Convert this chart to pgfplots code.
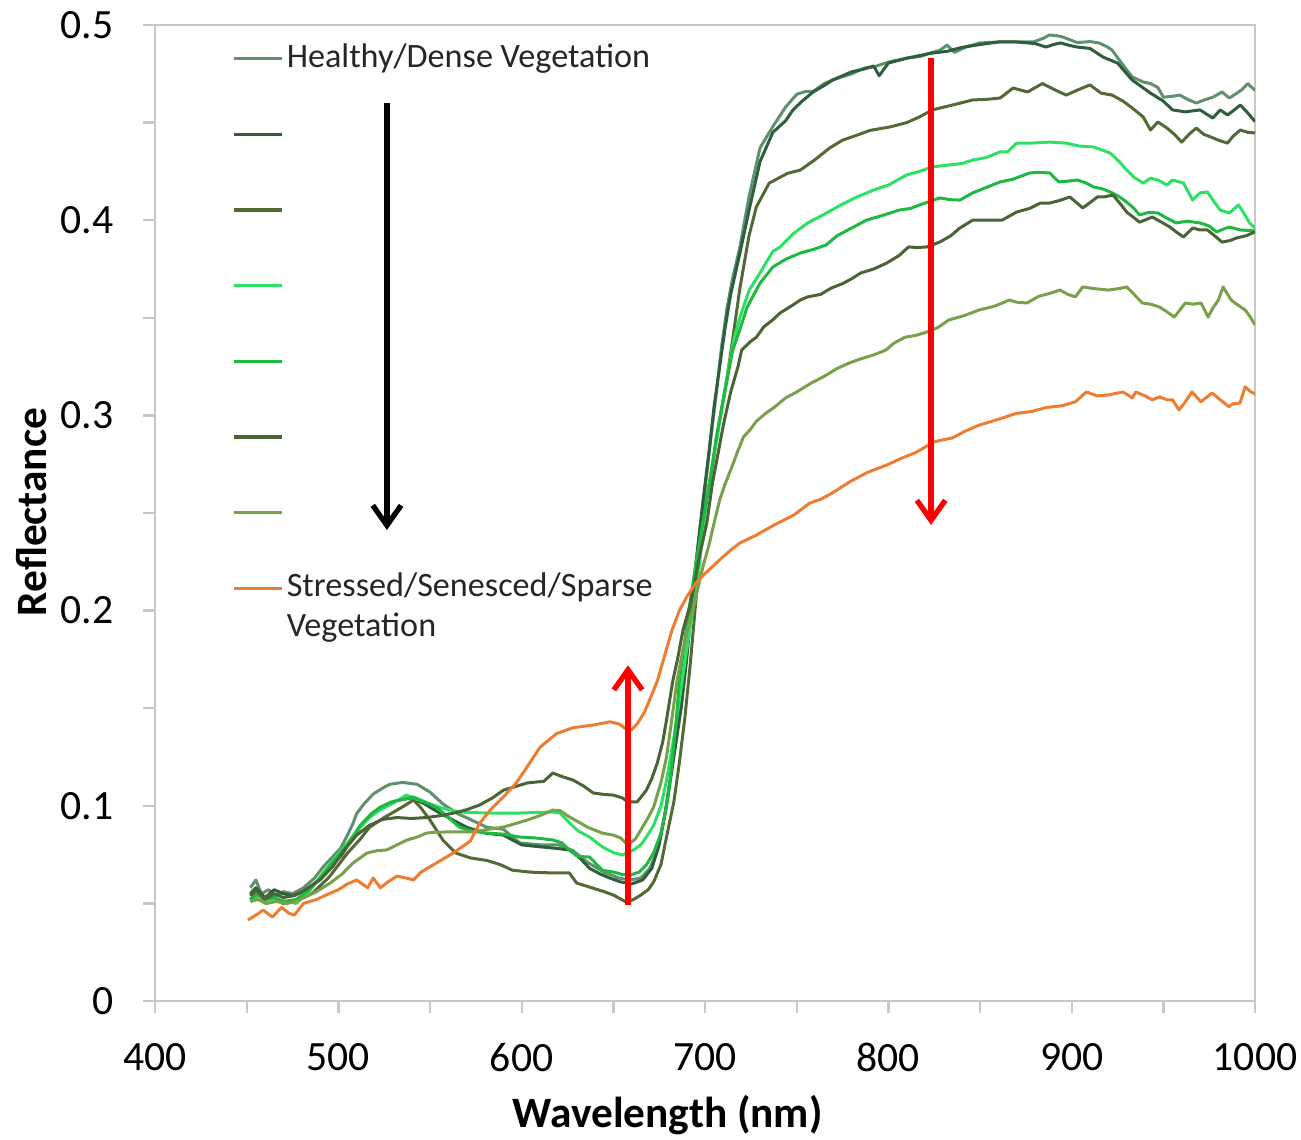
\documentclass[border=0pt]{standalone}
\usepackage{fontspec}
\setmainfont{Carlito}
\usepackage{pgfplots}
\pgfplotsset{compat=1.18}
\usetikzlibrary{arrows.meta,calc}
\definecolor{sA}{RGB}{95,145,110}
\definecolor{sB}{RGB}{45,95,60}
\definecolor{sC}{RGB}{84,106,52}
\definecolor{sD}{RGB}{45,225,100}
\definecolor{sE}{RGB}{30,185,65}
\definecolor{sF}{RGB}{75,100,55}
\definecolor{sG}{RGB}{122,160,75}
\definecolor{sH}{RGB}{237,125,49}
\definecolor{axgray}{RGB}{200,200,200}
\begin{document}
\begin{tikzpicture}
\begin{axis}[
  scale only axis, width=330pt, height=292.8pt,
  xmin=400, xmax=1000, ymin=0, ymax=0.5,
  xtick={400,500,...,1000}, ytick={0,0.1,...,0.5},
  minor tick num=1,
  tick align=outside, major tick length=3.6pt, minor tick length=3.6pt,
  xtick pos=bottom, ytick pos=left,
  axis line style={axgray, line width=0.7pt},
  every tick/.style={axgray, line width=0.7pt},
  every minor tick/.style={axgray, line width=0.7pt},
  tick label style={font=\fontsize{12.5}{14}\selectfont, text=black, inner sep=0pt},
  /pgf/number format/assume math mode=true,
  /pgf/number format/set thousands separator={},
  yticklabel style={/pgf/number format/fixed, xshift=-8.7pt},
  xticklabel style={yshift=-8.9pt},
  xlabel={Wavelength (nm)}, ylabel={Reflectance},
  label style={font=\fontsize{13}{15}\selectfont\bfseries, inner sep=0pt},
  xlabel style={at={(axis description cs:0.466,-0.1301)}, anchor=base},
  ylabel style={at={(axis description cs:-0.0982,0.501)}, anchor=base},
  legend style={draw=none, fill=none, at={(axis description cs:0.061,0.991)}, anchor=north west,
    font=\fontsize{10.25}{12}\selectfont, text=black!85,
    nodes={text height=7pt, text depth=2pt, inner sep=0.8pt},
    row sep=12.1pt},
  legend cell align=left,
  legend image code/.code={\draw[#1, line width=1pt] (0pt,0pt) -- (14.4pt,0pt);},
  every axis plot/.append style={line width=0.9pt, line join=round},
]
% 1 Healthy
\addplot[sA] table {
452 0.058
455 0.062
458 0.055
462 0.057
466 0.054
470 0.056
475 0.055
481 0.058
487 0.063
492 0.069
497 0.074
501 0.078
505 0.085
508 0.091
510 0.096
514 0.101
519 0.106
524 0.109
528 0.111
535 0.112
543 0.111
550 0.107
557 0.101
565 0.096
572 0.093
581 0.089
590 0.088
595 0.084
599 0.081
610 0.080
620 0.080
628 0.077
636 0.071
645 0.066
653 0.063
659 0.062
665 0.063
670 0.068
674 0.077
678 0.095
681 0.114
684 0.135
688 0.160
691 0.190
694 0.215
697 0.240
700 0.262
703 0.287
706 0.310
709 0.335
712 0.355
715 0.370
719 0.386
724 0.412
730 0.437
737 0.448
744 0.458
750 0.4645
755 0.466
759 0.466
765 0.470
770 0.472
780 0.475
787 0.478
792 0.4785
800 0.481
810 0.483
818 0.484
823 0.4857
828 0.487
832 0.4897
836 0.486
843 0.489
850 0.4908
860 0.4913
870 0.4913
879 0.4913
884 0.4930
888 0.4949
892 0.4945
895 0.4939
903 0.491
910 0.4915
915 0.4908
919 0.489
922 0.4872
926 0.482
930 0.477
933 0.4734
939 0.4708
943 0.470
947 0.468
950 0.463
955 0.4635
959 0.4641
963 0.462
968 0.460
972 0.4615
977 0.463
982 0.4657
986 0.4626
990 0.465
993 0.467
996 0.470
1000 0.4665
};
\addlegendentry{Healthy/Dense Vegetation}
% 2
\addplot[sB] table {
452 0.055
455 0.058
460 0.053
465 0.057
470 0.055
475 0.054
481 0.056
488 0.061
495 0.068
502 0.075
508 0.084
514 0.092
520 0.097
527 0.101
533 0.103
540 0.104
547 0.101
554 0.097
562 0.093
570 0.089
580 0.086
590 0.085
600 0.080
610 0.079
617 0.0784
626 0.0774
632 0.073
637 0.068
643 0.065
648 0.063
654 0.061
660 0.060
666 0.062
671 0.068
675 0.080
679 0.100
683 0.125
687 0.150
690 0.175
693 0.205
696 0.232
699 0.257
702 0.280
705 0.305
708 0.325
711 0.345
714 0.362
719 0.383
724 0.405
730 0.430
737 0.445
744 0.451
748 0.4565
753 0.461
759 0.4657
765 0.469
770 0.472
780 0.476
787 0.4775
792 0.479
795 0.474
800 0.4805
810 0.483
823 0.4855
832 0.4865
840 0.4885
850 0.490
860 0.4913
870 0.4913
880 0.4905
886 0.4887
890 0.490
894 0.4908
899 0.4895
903 0.4887
910 0.488
917 0.4836
925 0.4805
933 0.4718
943 0.4651
950 0.461
955 0.4565
962 0.4555
970 0.4565
977 0.4523
981 0.4565
985 0.4539
988 0.456
992 0.459
996 0.455
1000 0.4505
};
\addlegendentry{\mbox{}}
% 3
\addplot[sC] table {
452 0.052
455 0.055
458 0.052
462 0.054
466 0.052
470 0.050
477 0.0517
486 0.0553
495 0.0635
505 0.0758
512 0.083
517 0.089
525 0.094
532 0.0978
536 0.100
541 0.103
545 0.099
550 0.0927
557 0.0825
564 0.0758
572 0.0733
581 0.072
588 0.070
595 0.067
605 0.066
617 0.0656
626 0.0656
630 0.0604
637 0.0584
645 0.056
650 0.0543
657 0.0507
661 0.052
665 0.0543
669 0.057
672 0.061
676 0.070
679 0.084
683 0.102
686 0.122
689 0.145
692 0.173
695 0.205
697 0.229
700 0.252
704 0.274
708 0.298
712 0.319
716 0.345
719 0.365
724 0.392
728 0.4068
735 0.419
741 0.422
745 0.424
752 0.4257
760 0.431
768 0.437
775 0.441
783 0.4436
790 0.446
801 0.4478
810 0.450
817 0.4529
824 0.4565
835 0.459
846 0.4616
855 0.462
861 0.4626
868 0.4677
876 0.4657
884 0.470
891 0.4667
897 0.4641
904 0.467
910 0.4693
916 0.4651
922 0.4641
928 0.461
933 0.4575
939 0.4529
943 0.4462
947 0.4503
952 0.4472
956 0.444
960 0.440
964 0.444
968 0.4472
972 0.444
976 0.4426
980 0.441
985 0.4395
988 0.443
992 0.4462
996 0.445
1000 0.4447
};
\addlegendentry{\mbox{}}
% 4
\addplot[sD] table {
452 0.051
456 0.053
460 0.050
466 0.052
472 0.051
477 0.050
484 0.056
490 0.0635
497 0.072
505 0.081
511 0.088
517 0.094
523 0.098
530 0.1014
537 0.1055
544 0.103
550 0.101
556 0.099
566 0.0968
575 0.0965
581 0.0963
590 0.0963
599 0.0963
608 0.0966
617 0.0968
621 0.0963
626 0.0912
631 0.087
637 0.084
644 0.079
650 0.076
655 0.0748
661 0.0774
665 0.080
668 0.084
672 0.090
676 0.100
679 0.113
683 0.135
686 0.154
690 0.180
693 0.198
696 0.215
699 0.242
701 0.257
704 0.275
707 0.291
710 0.308
713 0.325
716 0.340
719 0.350
724 0.364
730 0.373
737 0.384
741 0.3863
748 0.393
756 0.3986
765 0.403
774 0.4078
782 0.4115
792 0.4155
800 0.418
810 0.4232
817 0.425
824 0.4273
835 0.4285
840 0.429
846 0.4308
853 0.432
861 0.435
865 0.435
870 0.4395
878 0.4395
888 0.440
897 0.4395
904 0.438
912 0.4375
921 0.4344
926 0.430
930 0.4257
934 0.422
939 0.419
943 0.4215
947 0.4206
952 0.418
955 0.4206
961 0.419
966 0.4103
970 0.414
974 0.4145
978 0.409
981 0.4052
986 0.4037
991 0.4078
995 0.402
997 0.3986
1000 0.396
};
\addlegendentry{\mbox{}}
% 5
\addplot[sE] table {
452 0.052
456 0.055
460 0.052
465 0.053
470 0.051
477 0.052
484 0.057
490 0.063
497 0.071
505 0.080
512 0.090
518 0.096
523 0.0994
529 0.102
534 0.103
541 0.1045
547 0.102
554 0.0989
560 0.094
566 0.0891
573 0.087
581 0.086
590 0.0855
599 0.084
608 0.0835
617 0.0825
622 0.081
626 0.0774
631 0.074
637 0.0738
644 0.067
650 0.0661
655 0.0648
659 0.0645
664 0.066
668 0.0697
672 0.076
676 0.086
679 0.100
681 0.1132
684 0.140
686 0.164
689 0.185
692 0.205
695 0.224
699 0.246
703 0.268
706 0.288
710 0.308
715 0.333
719 0.344
723 0.3555
730 0.3678
737 0.376
744 0.380
752 0.3832
759 0.385
766 0.3873
772 0.392
778 0.395
788 0.400
797 0.4025
806 0.4052
812 0.406
817 0.4078
828 0.4114
834 0.4105
839 0.4103
846 0.414
854 0.417
861 0.4196
868 0.421
877 0.4242
882 0.4245
888 0.4242
893 0.4196
898 0.420
903 0.4206
908 0.419
912 0.417
917 0.416
921 0.4145
926 0.412
930 0.4093
934 0.406
937 0.4027
942 0.404
947 0.4037
952 0.401
957 0.3986
963 0.3995
970 0.3986
975 0.397
979 0.394
983 0.3955
986 0.3965
992 0.395
1000 0.3945
};
\addlegendentry{\mbox{}}
% 6
\addplot[sF] table {
452 0.054
455 0.057
460 0.052
465 0.055
470 0.053
476 0.054
482 0.057
490 0.062
497 0.069
503 0.077
510 0.085
517 0.090
524 0.093
532 0.094
540 0.0935
548 0.094
556 0.095
563 0.0963
570 0.098
577 0.1004
584 0.104
590 0.108
597 0.110
603 0.1117
608 0.1122
612 0.1125
617 0.1168
622 0.115
628 0.1132
634 0.110
639 0.1066
645 0.1058
650 0.1055
655 0.104
658 0.102
663 0.102
668 0.108
671 0.114
674 0.122
677 0.133
679 0.144
682.5 0.1644
685 0.175
688 0.190
691 0.200
694 0.212
697 0.228
701 0.245
704 0.265
707 0.280
710 0.295
714 0.312
718 0.325
720 0.3335
725 0.338
728 0.340
732 0.3453
737 0.349
741 0.3525
747 0.356
752 0.3591
756 0.3607
763 0.362
769 0.3653
775 0.3675
780 0.370
785 0.373
792 0.375
799 0.378
806 0.382
811 0.3863
816 0.386
821 0.3863
828 0.3888
834 0.392
839 0.396
846 0.400
855 0.400
862 0.400
870 0.4042
877 0.406
883 0.4088
888 0.4088
893 0.410
899 0.4119
906 0.4063
910 0.409
914 0.4119
918 0.412
922.5 0.4129
926 0.409
930 0.4042
937 0.399
941 0.4005
944 0.4016
949 0.399
953.6 0.3965
957 0.394
961 0.3914
966 0.396
970 0.395
974 0.395
978 0.392
982 0.3888
986 0.3895
990 0.3909
995 0.392
1000 0.394
};
\addlegendentry{\mbox{}}
% 7
\addplot[sG] table {
452 0.051
456 0.052
461 0.050
466 0.051
472 0.050
477 0.051
481 0.0528
488 0.056
495.5 0.0604
502 0.065
508 0.0707
515.6 0.0758
521 0.077
526.5 0.0774
532 0.080
537.5 0.0825
543 0.084
548 0.086
553 0.0865
559 0.0866
566 0.0866
573.5 0.0866
582 0.088
590 0.0891
597 0.091
603 0.0927
610 0.095
617 0.0978
621 0.0975
626 0.0943
632 0.0912
636 0.089
644 0.086
650 0.085
654 0.0835
658 0.080
662 0.083
665 0.0876
669 0.094
672 0.0994
676 0.112
679 0.125
682 0.145
684.7 0.164
688 0.180
691 0.192
694 0.203
697 0.215
699 0.223
702 0.233
705 0.245
708 0.2567
711 0.265
714 0.272
718 0.282
721 0.289
724.5 0.2925
728 0.297
733 0.301
738 0.3043
744 0.309
750 0.312
758 0.3166
765 0.320
772 0.324
778.6 0.3268
785 0.329
792 0.331
798.7 0.3335
803 0.337
809 0.340
815 0.341
821 0.3427
827 0.345
833 0.3489
841 0.351
849.5 0.354
858 0.356
866 0.3591
870 0.358
875.6 0.3576
882 0.361
888 0.3625
893.6 0.3642
898 0.362
902 0.3607
906 0.3658
912 0.365
920 0.3642
926 0.365
930 0.3658
934 0.362
938.5 0.3576
943 0.357
948 0.3555
952 0.353
956 0.3504
959 0.354
962 0.3576
966 0.357
970.5 0.3576
972 0.355
974.4 0.3504
977 0.355
980 0.3591
982.6 0.3658
987 0.3591
990 0.357
994.6 0.354
997 0.351
1000 0.3463
};
\addlegendentry{\mbox{}}
% 8 Stressed
\addplot[sH] table {
450.7 0.0415
455 0.044
459 0.0466
464 0.043
469 0.048
473 0.045
476 0.044
481 0.050
488 0.052
495 0.055
500 0.057
505 0.060
510 0.062
516 0.058
519 0.063
523 0.058
527 0.061
532 0.064
537 0.063
541 0.062
545 0.066
554 0.071
563 0.076
572 0.082
577 0.091
583 0.098
590 0.1045
597 0.1117
603 0.120
610 0.130
619 0.137
628 0.140
639 0.1414
648 0.143
653 0.142
657.5 0.139
660 0.139
663 0.142
667 0.148
671 0.157
674 0.164
678 0.177
682 0.190
686 0.200
690 0.207
695 0.214
700 0.219
708 0.226
714 0.231
719 0.2346
728 0.2387
738 0.244
748.5 0.249
757 0.255
763 0.257
769 0.260
779 0.266
789 0.271
799 0.2745
807 0.278
815 0.281
825 0.2865
835 0.2885
842 0.292
849.5 0.295
860 0.298
869.6 0.301
878 0.302
886 0.304
895 0.305
902 0.307
908 0.312
914 0.310
920 0.3105
928 0.312
933 0.309
935 0.312
940 0.310
944 0.308
948 0.3095
952 0.308
955 0.308
958.5 0.3028
962 0.307
965.6 0.312
970.5 0.307
976.6 0.3115
981 0.308
985.8 0.3045
988 0.306
991.8 0.3063
994.6 0.3146
997.8 0.312
1000 0.311
};
\addlegendentry{\parbox[t]{5cm}{Stressed/Senesced/Sparse\\Vegetation}}
% annotation arrows
\draw[black, line width=1.6pt, -{Straight Barb[length=6pt,width=8.5pt]}] (axis cs:526.5,0.460) -- (axis cs:526.5,0.2413);
\draw[red, line width=1.6pt, -{Straight Barb[length=6pt,width=8.5pt]}] (axis cs:658,0.0492) -- (axis cs:658,0.172);
\draw[red, line width=1.6pt, -{Straight Barb[length=6pt,width=8.5pt]}] (axis cs:823.3,0.483) -- (axis cs:823.3,0.2439);
\end{axis}
\path (current axis.south west) ++(-46.5pt,-41.4pt) rectangle ($(current axis.north east)+(13.8pt,7.5pt)$);
\end{tikzpicture}
\end{document}
